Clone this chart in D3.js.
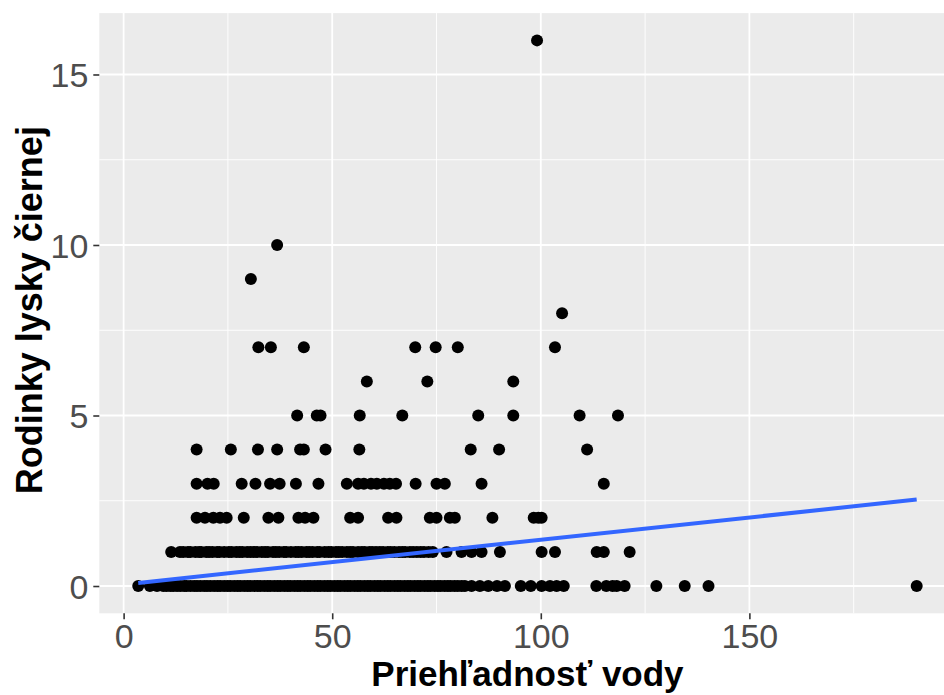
<!DOCTYPE html>
<html>
<head>
<meta charset="utf-8">
<script src="https://cdn.jsdelivr.net/npm/d3@7/dist/d3.min.js"></script>
<style>
  html, body { margin: 0; padding: 0; background: #ffffff; }
  svg { display: block; }
</style>
</head>
<body>
<svg id="chart" width="944" height="695"></svg>
<script>
// ---- DATA ----
const xTicks = [0, 50, 100, 150];
const yTicks = [0, 5, 10, 15];
const xMinorTicks = [25, 75, 125, 175];
const yMinorTicks = [2.5, 7.5, 12.5];

const xLabel = "Priehľadnosť vody";
const yLabel = "Rodinky lysky čiernej";

// transparency values (x) for each count level (y)
const row16 = [99.1];
const row10 = [36.8];
const row9 = [30.5];
const row8 = [105.1];
const row7 = [32.3, 35.3, 43.2, 69.9, 74.8, 80.1, 103.4];
const row6 = [58.3, 72.8, 93.4];
const row5 = [41.6, 46.3, 47.2, 56.6, 66.8, 85.0, 93.4, 109.3, 118.5];
const row4 = [17.5, 25.7, 32.2, 36.8, 42.3, 43.2, 48.4, 56.5, 83.2, 90.0, 111.1];
const row3 = [17.5, 20.1, 21.6, 28.3, 31.6, 35.1, 37.4, 41.3, 46.7, 53.5, 56.2, 57.6, 59.3,
              60.7, 62.4, 63.8, 65.3, 70.0, 75.0, 77.0, 85.8, 115.1];
const row2 = [17.5, 19.5, 21.5, 23.1, 24.7, 28.8, 34.7, 37.1, 41.9, 43.5, 45.5, 54.3, 56.2,
              63.4, 65.4, 73.4, 75.0, 78.2, 79.4, 88.4, 98.3, 99.4, 100.2];
const row1 = [11.4, 13.5, 14.3, 15.4, 16.0, 17.2, 18.1, 18.6, 19.8, 20.5, 21.3, 22.4, 23.0,
              24.1, 25.2, 25.9, 27.0, 27.8, 28.5, 29.6, 30.4, 31.2, 32.0, 33.1, 33.9, 34.6,
              35.8, 36.5, 37.3, 38.4, 39.0, 40.1, 41.2, 41.9, 42.7, 43.8, 44.5, 45.3, 46.4,
              47.0, 48.2, 49.1, 49.8, 50.9, 51.6, 52.4, 53.5, 54.3, 55.0, 56.2, 57.1, 57.8,
              58.9, 59.6, 60.5, 61.4, 62.2, 63.3, 64.0, 64.9, 66.0, 66.8, 67.5, 68.6, 69.4,
              70.3, 71.2, 72.0, 73.1, 74.1, 77.4, 81.0, 83.4, 85.8, 90.2, 100.2, 103.4,
              113.4, 115.1, 121.3];
const row0 = [3.5, 6.3, 8.0, 9.5, 10.3, 11.2, 11.9, 12.8, 13.6, 14.5, 15.1, 16.0, 16.9, 17.6,
              18.4, 19.3, 20.0, 20.8, 21.7, 22.5, 23.2, 24.1, 24.9, 25.6, 26.5, 27.3, 28.0,
              28.9, 29.7, 30.4, 31.3, 32.1, 32.8, 33.7, 34.5, 35.2, 36.1, 36.9, 37.6, 38.5,
              39.3, 40.0, 40.9, 41.7, 42.4, 43.3, 44.1, 44.8, 45.7, 46.5, 47.2, 48.1, 48.9,
              49.6, 50.5, 51.3, 52.0, 52.9, 53.7, 54.4, 55.3, 56.1, 56.8, 57.7, 58.5, 59.2,
              60.1, 60.9, 61.6, 62.5, 63.3, 64.0, 64.9, 65.7, 66.4, 67.3, 68.1, 68.8, 69.7,
              70.5, 71.2, 72.1, 72.9, 73.6, 74.5, 75.3, 76.0, 76.9, 77.7, 78.4, 79.3, 80.1,
              81.0, 81.8, 83.4, 85.4, 87.4, 89.5, 91.4, 95.2, 97.6, 100.2, 102.2, 103.8,
              105.5, 113.3, 115.7, 117.2, 118.2, 120.1, 127.7, 134.5, 140.2, 190.1];

const countLevels = [0, 1, 2, 3, 4, 5, 6, 7, 8, 9, 10, 16];
const rows = [row0, row1, row2, row3, row4, row5, row6, row7, row8, row9, row10, row16];

// linear fit (geom_smooth method = "lm")
const fitIntercept = 0.045;
const fitSlope = 0.0131;

// ---- BUILD POINTS ----
const points = [];
rows.forEach((r, i) => r.forEach(x => points.push({x: x, y: countLevels[i]})));

const xExt = d3.extent(points, d => d.x);
const yExt = d3.extent(points, d => d.y);
const fitLine = [xExt[0], xExt[1]].map(x => ({x: x, y: fitIntercept + fitSlope * x}));

// ---- LAYOUT ----
const svg = d3.select("#chart");
const panel = {left: 99.3, top: 13.1, right: 955.6, bottom: 613.3};

const xPad = (xExt[1] - xExt[0]) * 0.05;
const yPad = (yExt[1] - yExt[0]) * 0.05;
const x = d3.scaleLinear().domain([xExt[0] - xPad, xExt[1] + xPad]).range([panel.left, panel.right]);
const y = d3.scaleLinear().domain([yExt[0] - yPad, yExt[1] + yPad]).range([panel.bottom, panel.top]);

const font = "'Liberation Sans', Arial, Helvetica, sans-serif";

// panel background
svg.append("rect")
  .attr("x", panel.left).attr("y", panel.top)
  .attr("width", panel.right - panel.left).attr("height", panel.bottom - panel.top)
  .attr("fill", "#EBEBEB");

const grid = svg.append("g");
// minor grid
grid.selectAll(".vminor").data(xMinorTicks).enter().append("line")
  .attr("x1", d => x(d)).attr("x2", d => x(d))
  .attr("y1", panel.top).attr("y2", panel.bottom)
  .attr("stroke", "#ffffff").attr("stroke-width", 0.9);
grid.selectAll(".hminor").data(yMinorTicks).enter().append("line")
  .attr("y1", d => y(d)).attr("y2", d => y(d))
  .attr("x1", panel.left).attr("x2", panel.right)
  .attr("stroke", "#ffffff").attr("stroke-width", 0.9);
// major grid
grid.selectAll(".vmajor").data(xTicks).enter().append("line")
  .attr("x1", d => x(d)).attr("x2", d => x(d))
  .attr("y1", panel.top).attr("y2", panel.bottom)
  .attr("stroke", "#ffffff").attr("stroke-width", 1.8);
grid.selectAll(".hmajor").data(yTicks).enter().append("line")
  .attr("y1", d => y(d)).attr("y2", d => y(d))
  .attr("x1", panel.left).attr("x2", panel.right)
  .attr("stroke", "#ffffff").attr("stroke-width", 1.8);

// points
svg.append("g").selectAll("circle").data(points).enter().append("circle")
  .attr("cx", d => x(d.x)).attr("cy", d => y(d.y))
  .attr("r", 6).attr("fill", "#000000");

// fitted line
svg.append("path").datum(fitLine)
  .attr("d", d3.line().x(d => x(d.x)).y(d => y(d.y)))
  .attr("fill", "none").attr("stroke", "#3366FF").attr("stroke-width", 4);

// axes
const xAxis = d3.axisBottom(x).tickValues(xTicks).tickSize(6).tickPadding(5);
const yAxis = d3.axisLeft(y).tickValues(yTicks).tickSize(6).tickPadding(5);

const gx = svg.append("g").attr("transform", `translate(0,${panel.bottom})`).call(xAxis);
const gy = svg.append("g").attr("transform", `translate(${panel.left},0)`).call(yAxis);
[gx, gy].forEach(g => {
  g.select(".domain").remove();
  g.selectAll(".tick line").attr("stroke", "#333333").attr("stroke-width", 1.6);
  g.selectAll(".tick text").attr("fill", "#4D4D4D")
    .style("font-family", font).style("font-size", "34px");
});
gx.selectAll(".tick text").attr("dy", "0.71em");
gy.selectAll(".tick text").attr("dy", "0.36em");

// axis titles
svg.append("text")
  .attr("x", (panel.left + panel.right) / 2).attr("y", 686)
  .attr("text-anchor", "middle")
  .style("font-family", font).style("font-size", "35px").style("font-weight", "bold")
  .attr("fill", "#000000")
  .text(xLabel);

svg.append("text")
  .attr("transform", `translate(42,${(panel.top + panel.bottom) / 2 - 3}) rotate(-90)`)
  .attr("text-anchor", "middle")
  .style("font-family", font).style("font-size", "36px").style("font-weight", "bold")
  .attr("fill", "#000000")
  .text(yLabel);
</script>
</body>
</html>
